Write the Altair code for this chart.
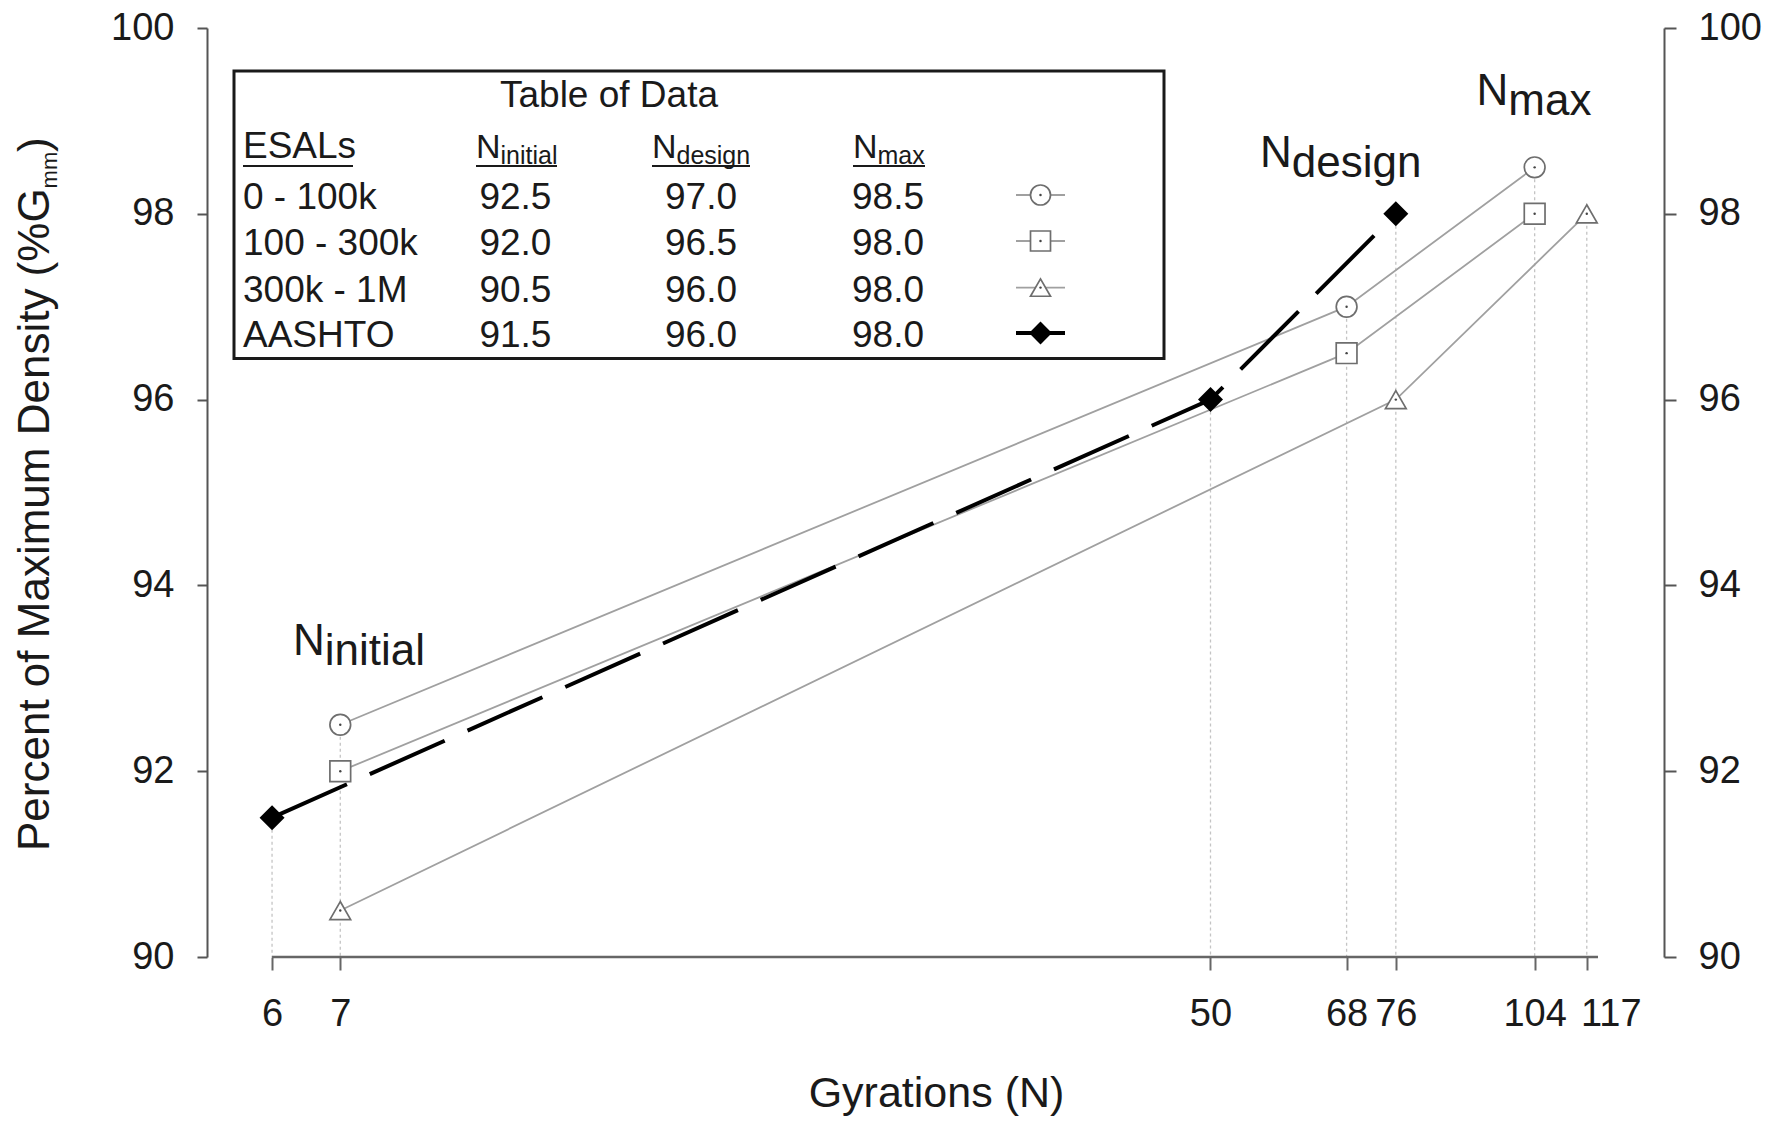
import altair as alt
import pandas as pd

FONT = "Liberation Sans"
TXT = "#1a1a1a"

# ---------------- data ----------------
esal_levels = ["0 - 100k", "100 - 300k", "300k - 1M", "AASHTO"]
n_stages = ["initial", "design", "max"]

gyr_0_100k = [7, 68, 104]
pct_0_100k = [92.5, 97.0, 98.5]
gyr_100_300k = [7, 68, 104]
pct_100_300k = [92.0, 96.5, 98.0]
gyr_300k_1m = [7, 76, 117]
pct_300k_1m = [90.5, 96.0, 98.0]
gyr_aashto = [6, 50, 76]
pct_aashto = [91.5, 96.0, 98.0]

x_tick_values = [6, 7, 50, 68, 76, 104, 117]
y_tick_values = [90, 92, 94, 96, 98, 100]
x_axis_end = 120

hollow_shapes = ["circle", "square", "triangle-up"]

# ---------------- frames ----------------
rows = []
for name, gs, ps in zip(esal_levels,
                        [gyr_0_100k, gyr_100_300k, gyr_300k_1m, gyr_aashto],
                        [pct_0_100k, pct_100_300k, pct_300k_1m, pct_aashto]):
    for stage, g, p in zip(n_stages, gs, ps):
        rows.append(dict(series=name, stage=stage, gyr=g, pct=p))
df = pd.DataFrame(rows)
gray_df = df[df.series != "AASHTO"].copy()
aashto_df = df[df.series == "AASHTO"].copy()
drop_df = df.groupby("gyr", as_index=False)["pct"].max()
drop_df["base"] = y_tick_values[0]
xdom_df = pd.DataFrame({"gyr": [x_tick_values[0]], "gyr_end": [x_axis_end], "base": [y_tick_values[0]]})

# ---------------- scales / axes ----------------
W, H = 1457, 929
xscale = alt.Scale(type="log", domain=[5.18, 139.3], nice=False)
yscale = alt.Scale(domain=[y_tick_values[0], y_tick_values[-1]], nice=False, zero=False)
shape_scale = alt.Scale(domain=esal_levels[:3], range=hollow_shapes)

xaxis = alt.Axis(values=x_tick_values, title=None, domain=False, grid=False,
                 tickSize=13, tickWidth=2, tickColor="#666",
                 labelFont=FONT, labelFontSize=38, labelColor=TXT, labelPadding=25,
                 labelOverlap=False, labelFlush=False, format="d",
                 labelOffset={"condition": {"test": "datum.value == 117", "value": 24}, "value": 0})
X = alt.X("gyr:Q", scale=xscale, axis=xaxis)

ax_common = dict(values=y_tick_values, title=None, grid=False,
                 domainColor="#555", domainWidth=2, tickColor="#555", tickWidth=2,
                 labelFont=FONT, labelFontSize=38, labelColor=TXT)
left_axis = alt.Axis(orient="left", tickSize=10, labelPadding=23, **ax_common)
right_axis = alt.Axis(orient="right", tickSize=12, labelPadding=22, **ax_common)


def Yq(field, axis=None):
    return alt.Y(field, scale=yscale, axis=axis)


PX = lambda f: alt.X(f, scale=None, axis=None)
PY = lambda f: alt.Y(f, scale=None, axis=None)

MARK_STROKE = "#6e6e6e"
LINE_GRAY = "#a0a0a0"

# ---------------- data layers ----------------
drops = alt.Chart(drop_df).mark_rule(color="#c4c4c4", strokeWidth=1.3, strokeDash=[3, 3]).encode(
    x=X, y=Yq("pct:Q", right_axis), y2="base:Q")
xdomain = alt.Chart(xdom_df).mark_rule(color="#666", strokeWidth=2.5).encode(
    x=X, x2="gyr_end:Q", y=Yq("base:Q"))
gray_lines = alt.Chart(gray_df).mark_line(color=LINE_GRAY, strokeWidth=1.8).encode(
    x=X, y=Yq("pct:Q", left_axis), detail="series:N", order="gyr:Q")
aashto_line = alt.Chart(aashto_df).mark_line(color="#000000", strokeWidth=4, strokeDash=[82, 25]).encode(
    x=X, y=Yq("pct:Q"), order="gyr:Q")
hollow = alt.Chart(gray_df).mark_point(filled=True, color="white", stroke=MARK_STROKE, strokeWidth=1.7,
                                       opacity=1, size=430).encode(
    x=X, y=Yq("pct:Q"), shape=alt.Shape("series:N", scale=shape_scale, legend=None))
dots = alt.Chart(gray_df).mark_point(filled=True, color="#444", size=6, shape="circle", opacity=1).encode(
    x=X, y=Yq("pct:Q"))
diamonds = alt.Chart(aashto_df).mark_point(filled=True, color="#000", shape="diamond", size=625, opacity=1).encode(
    x=X, y=Yq("pct:Q"))


# ---------------- table of data (pixel annotations) ----------------
def text_layer(d, size, align="left", angle=0):
    return alt.Chart(pd.DataFrame(d)).mark_text(font=FONT, fontSize=size, align=align,
                                                baseline="alphabetic", angle=angle, color=TXT).encode(
        x=PX("tx:Q"), y=PY("ty:Q"), text="label:N")


box = alt.Chart(pd.DataFrame({"bx0": [27], "bx1": [957], "by0": [43], "by1": [330.5]})).mark_rect(
    fill="white", stroke="#1a1a1a", strokeWidth=3).encode(
    x=PX("bx0:Q"), x2="bx1:Q", y=PY("by0:Q"), y2="by1:Q")

row_base = [181, 227, 273.6, 319]
col_center = [308.4, 494, 681]
head_x = [269, 445, 646]

t_title = text_layer({"label": ["Table of Data"], "tx": [402], "ty": [78.7]}, 37, "center")
t_esal = text_layer({"label": ["ESALs"], "tx": [36], "ty": [130]}, 37)
t_headN = text_layer({"label": ["N"] * 3, "tx": head_x, "ty": [130] * 3}, 34)
t_headS = text_layer({"label": n_stages, "tx": [h + 24.5 for h in head_x], "ty": [135.5] * 3}, 25)
underl = alt.Chart(pd.DataFrame({"ux0": [36, 269, 445, 646], "ux1": [146, 350, 543, 718],
                                 "uy": [138] * 4})).mark_rule(color=TXT, strokeWidth=2).encode(
    x=PX("ux0:Q"), x2="ux1:Q", y=PY("uy:Q"))
t_rows = text_layer({"label": esal_levels, "tx": [36] * 4, "ty": row_base}, 37)
vals = {"label": [], "tx": [], "ty": []}
for r, name in enumerate(esal_levels):
    sub = df[df.series == name]
    for c, p in enumerate(sub["pct"]):
        vals["label"].append(f"{p:.1f}")
        vals["tx"].append(col_center[c])
        vals["ty"].append(row_base[r])
t_vals = text_layer(vals, 37, "center")

leg_y = [b - 14 for b in row_base]
leg_df = pd.DataFrame({"series": esal_levels, "lx0": [809] * 4, "lx1": [858] * 4, "lx": [833.5] * 4, "ly": leg_y})
leg_gray = leg_df[leg_df.series != "AASHTO"]
leg_black = leg_df[leg_df.series == "AASHTO"]
leg_lines = alt.Chart(leg_gray).mark_rule(color=LINE_GRAY, strokeWidth=1.8).encode(
    x=PX("lx0:Q"), x2="lx1:Q", y=PY("ly:Q"))
leg_bline = alt.Chart(leg_black).mark_rule(color="#000", strokeWidth=4).encode(
    x=PX("lx0:Q"), x2="lx1:Q", y=PY("ly:Q"))
leg_marks = alt.Chart(leg_gray).mark_point(filled=True, color="white", stroke=MARK_STROKE, strokeWidth=1.7,
                                           opacity=1, size=400).encode(
    x=PX("lx:Q"), y=PY("ly:Q"), shape=alt.Shape("series:N", scale=shape_scale, legend=None))
leg_dots = alt.Chart(leg_gray).mark_point(filled=True, color="#444", size=6, shape="circle", opacity=1).encode(
    x=PX("lx:Q"), y=PY("ly:Q"))
leg_diam = alt.Chart(leg_black).mark_point(filled=True, color="#000", shape="diamond", size=520, opacity=1).encode(
    x=PX("lx:Q"), y=PY("ly:Q"))

# ---------------- stage annotations ----------------
ann_x = [86, 1053, 1269.5]
ann_y = [627, 138.7, 77]
t_annN = text_layer({"label": ["N"] * 3, "tx": ann_x, "ty": ann_y}, 44)
t_annS = text_layer({"label": n_stages, "tx": [a + 31.8 for a in ann_x], "ty": [a + 10 for a in ann_y]}, 44)

# ---------------- axis titles ----------------
t_ytitle = text_layer({"label": ["Percent of Maximum Density (%G", ")"], "tx": [-158, -158], "ty": [823, 124]},
                      44, "left", 270)
t_ysub = text_layer({"label": ["mm"], "tx": [-150], "ty": [160.4]}, 22, "left", 270)
t_xtitle = text_layer({"label": ["Gyrations (N)"], "tx": [729.5], "ty": [1079]}, 43, "center")

chart = alt.layer(
    drops, xdomain, gray_lines, aashto_line, hollow, dots, diamonds,
    box, t_title, t_esal, t_headN, t_headS, underl, t_rows, t_vals,
    leg_lines, leg_bline, leg_marks, leg_dots, leg_diam,
    t_annN, t_annS, t_ytitle, t_ysub, t_xtitle,
).resolve_scale(y="independent").properties(
    width=W, height=H,
    autosize=alt.AutoSizeParams(type="none"),
    padding={"left": 199, "top": 20, "right": 110, "bottom": 160},
    background="white",
).configure_view(stroke=None)

chart.save("out.html", embed_options={"renderer": "svg", "actions": False})
